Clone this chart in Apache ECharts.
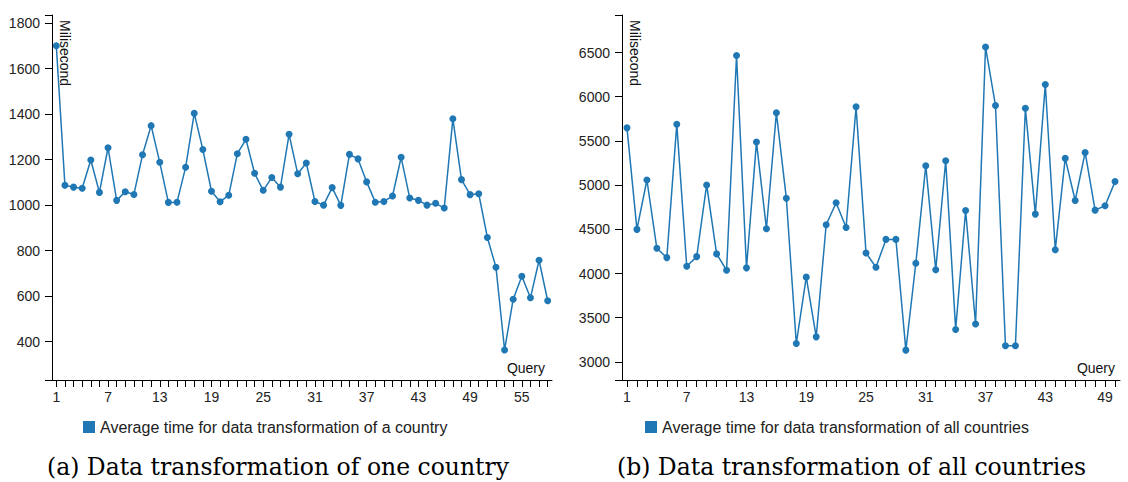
<!DOCTYPE html>
<html>
<head>
<meta charset="utf-8">
<script src="https://cdn.jsdelivr.net/npm/echarts@6/dist/echarts.min.js"></script>
<style>
html,body{margin:0;padding:0;background:#fff;}
#chart{width:1128px;height:482px;}
</style>
</head>
<body>
<div id="chart"></div>
<script>
// ---- Data ----
const queriesOne = ['1','2','3','4','5','6','7','8','9','10','11','12','13','14','15','16','17','18','19','20','21','22','23','24','25','26','27','28','29','30','31','32','33','34','35','36','37','38','39','40','41','42','43','44','45','46','47','48','49','50','51','52','53','54','55','56','57','58'];
const timeOne = [1700,1087,1079,1074,1198,1056,1252,1021,1059,1047,1221,1349,1188,1012,1013,1166,1403,1244,1061,1015,1043,1226,1289,1140,1065,1121,1079,1311,1138,1185,1016,1000,1077,999,1223,1203,1102,1013,1016,1040,1210,1031,1021,1000,1008,987,1379,1112,1046,1050,858,727,364,587,688,593,758,580];
const queriesAll = ['1','2','3','4','5','6','7','8','9','10','11','12','13','14','15','16','17','18','19','20','21','22','23','24','25','26','27','28','29','30','31','32','33','34','35','36','37','38','39','40','41','42','43','44','45','46','47','48','49','50'];
const timeAll = [5648,4499,5058,4285,4180,5688,4082,4191,5002,4222,4037,6466,4064,5487,4507,5818,4852,3208,3959,3283,4552,4800,4521,5886,4233,4071,4386,4386,3133,4116,5220,4042,5276,3366,4713,3429,6562,5900,3182,3182,5869,4672,6138,4268,5303,4826,5370,4717,4766,5040];

const xTickLabelsOne = ['1','7','13','19','25','31','37','43','49','55'];
const xTickLabelsAll = ['1','7','13','19','25','31','37','43','49'];
const yTickLabelsOne = [400,600,800,1000,1200,1400,1600,1800];
const yTickLabelsAll = [3000,3500,4000,4500,5000,5500,6000,6500];

const nameOne = 'Average time for data transformation of a country';
const nameAll = 'Average time for data transformation of all countries';
const captionOne = '(a) Data transformation of one country';
const captionAll = '(b) Data transformation of all countries';
const yAxisTitle = 'Milisecond';
const xAxisTitle = 'Query';

// ---- Styles ----
const BLUE = '#1f77b4';
const AXIS = '#000';
const LABEL = '#222';
const SANS = 'Liberation Sans, Arial, sans-serif';

function xAxis(gridIndex, cats, shown) {
  return {
    type: 'category', gridIndex, data: cats, boundaryGap: true,
    axisLine: { show: true, lineStyle: { color: AXIS, width: 1 } },
    axisTick: { show: true, interval: 0, alignWithLabel: true, length: 7, lineStyle: { color: AXIS } },
    axisLabel: { interval: 0, margin: 10, color: LABEL, fontSize: 14, fontFamily: SANS,
      formatter: v => shown.includes(v) ? v : '' },
    splitLine: { show: false }
  };
}
function yAxis(gridIndex, min, max, step, shown) {
  return {
    type: 'value', gridIndex, min, max, minInterval: step, maxInterval: step,
    axisLine: { show: true, lineStyle: { color: AXIS, width: 1 } },
    axisTick: { show: true, length: 7, lineStyle: { color: AXIS } },
    axisLabel: { margin: 12, color: LABEL, fontSize: 14, fontFamily: SANS,
      formatter: v => shown.includes(v) ? String(v) : '' },
    splitLine: { show: false }
  };
}
function lineSeries(name, idx, data) {
  return {
    name, type: 'line', xAxisIndex: idx, yAxisIndex: idx, data,
    symbol: 'circle', symbolSize: 7, showSymbol: true,
    lineStyle: { color: BLUE, width: 1.5 },
    itemStyle: { color: BLUE },
    emphasis: { disabled: true }
  };
}
function legend(left, name) {
  return {
    data: [name], left, top: 419, padding: 0, icon: 'rect',
    itemWidth: 12, itemHeight: 12, itemGap: 5,
    textStyle: { fontSize: 16, color: LABEL, fontFamily: SANS }
  };
}

const chart = echarts.init(document.getElementById('chart'), null, { renderer: 'svg' });
chart.setOption({
  animation: false,
  backgroundColor: '#fff',
  grid: [
    { left: 52, top: 15, width: 500, height: 365 },
    { left: 622, top: 15, width: 498, height: 365 }
  ],
  xAxis: [xAxis(0, queriesOne, xTickLabelsOne), xAxis(1, queriesAll, xTickLabelsAll)],
  yAxis: [yAxis(0, 232, 1835, 200, yTickLabelsOne), yAxis(1, 2795, 6925, 500, yTickLabelsAll)],
  legend: [legend(83, nameOne), legend(645, nameAll)],
  series: [lineSeries(nameOne, 0, timeOne), lineSeries(nameAll, 1, timeAll)],
  graphic: [
    { type: 'text', x: 65, y: 20, rotation: -Math.PI / 2,
      style: { text: yAxisTitle, fontSize: 14, fontFamily: SANS, fill: '#111', align: 'left', verticalAlign: 'middle' } },
    { type: 'text', x: 635, y: 20, rotation: -Math.PI / 2,
      style: { text: yAxisTitle, fontSize: 14, fontFamily: SANS, fill: '#111', align: 'left', verticalAlign: 'middle' } },
    { type: 'text', x: 545, y: 368,
      style: { text: xAxisTitle, fontSize: 14, fontFamily: SANS, fill: '#111', align: 'right', verticalAlign: 'middle' } },
    { type: 'text', x: 1115, y: 368,
      style: { text: xAxisTitle, fontSize: 14, fontFamily: SANS, fill: '#111', align: 'right', verticalAlign: 'middle' } },
    { type: 'text', x: 47, y: 467,
      style: { text: captionOne, fontSize: 23.5, fontFamily: 'DejaVu Serif, serif', fill: '#000', align: 'left', verticalAlign: 'middle' } },
    { type: 'text', x: 617, y: 467,
      style: { text: captionAll, fontSize: 23.5, fontFamily: 'DejaVu Serif, serif', fill: '#000', align: 'left', verticalAlign: 'middle' } }
  ]
});
</script>
</body>
</html>
